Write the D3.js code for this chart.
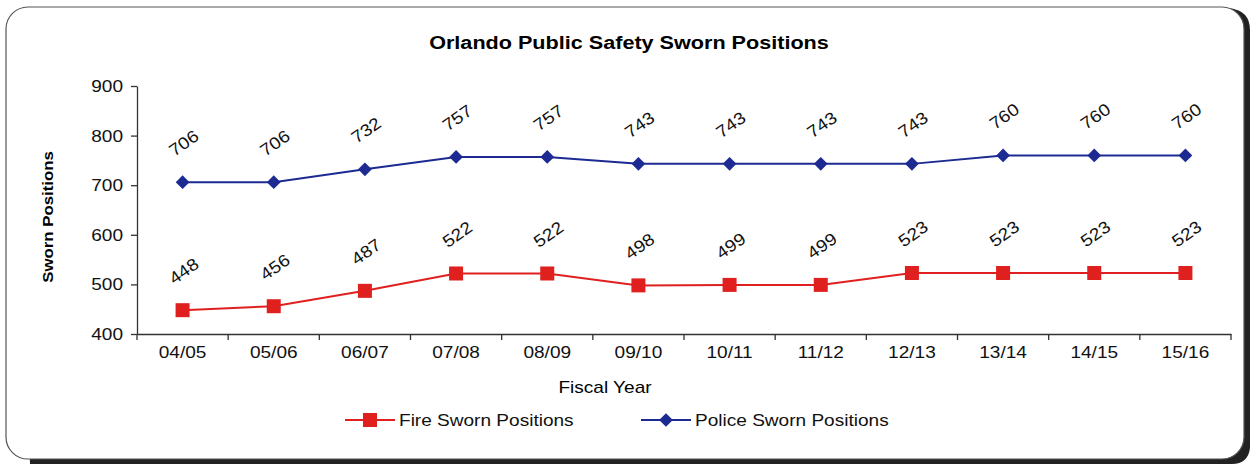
<!DOCTYPE html>
<html><head><meta charset="utf-8">
<script src="https://cdn.jsdelivr.net/npm/d3@7"></script>
<style>body{margin:0;background:#fff;}svg{display:block;font-family:"Liberation Sans",Arial,sans-serif;}</style>
</head><body>
<svg id="c" width="1252" height="465"></svg>
<script>
const categories = ["04/05","05/06","06/07","07/08","08/09","09/10","10/11","11/12","12/13","13/14","14/15","15/16"];
const fireValues = [448,456,487,522,522,498,499,499,523,523,523,523];
const policeValues = [706,706,732,757,757,743,743,743,743,760,760,760];
const yTicks = [400,500,600,700,800,900];
const title = "Orlando Public Safety Sworn Positions";
const xTitle = "Fiscal Year";
const yTitle = "Sworn Positions";
const seriesNames = ["Fire Sworn Positions","Police Sworn Positions"];

const svg = d3.select("#c");
const fireColor = "#e01f1f", policeColor = "#1c2a92";
const FS = 17;

// frame with shadow
svg.append("path").attr("d", "M 14 16 Q 14 10 30 8 L 1228 8 Q 1250 10 1250 30 L 1250 448 Q 1248 464 1232 464 L 30 464 Z").attr("fill","#222");
svg.append("rect").attr("x",6).attr("y",7).attr("width",1238).attr("height",452).attr("rx",22)
  .attr("fill","#fff").attr("stroke","#555").attr("stroke-width",1.2);

const pLeft = 137, pRight = 1231, pTop = 86, pBottom = 334;
const x = d3.scaleBand().domain(categories).range([pLeft,pRight]);
const y = d3.scaleLinear().domain([400,900]).range([pBottom,pTop]);

// title
svg.append("text").attr("class","st").attr("data-k",1.2).attr("x",629).attr("y",49).attr("text-anchor","middle")
  .attr("font-size",18).attr("font-weight","bold").text(title);

// y axis
const ya = svg.append("g").attr("transform",`translate(${pLeft},0)`)
  .call(d3.axisLeft(y).tickValues(yTicks).tickSize(6).tickSizeOuter(0).tickPadding(8));
ya.selectAll("text").attr("class","st").attr("font-size",FS).attr("fill","#111").style("font-family","Liberation Sans, Arial");
ya.selectAll("line,path").attr("stroke","#333").attr("stroke-width",1.3);

// x axis
const xa = svg.append("g").attr("transform",`translate(0,${pBottom})`)
  .call(d3.axisBottom(x).tickSize(0).tickPadding(12));
xa.selectAll("text").attr("class","st").attr("font-size",FS).attr("fill","#111").style("font-family","Liberation Sans, Arial");
xa.select(".domain").attr("stroke","#333").attr("stroke-width",1.3);
const bounds = categories.map(c=>x(c)).concat([x(categories[categories.length-1])+x.bandwidth()]);
svg.append("g").selectAll("line").data(bounds).join("line")
  .attr("x1",d=>d).attr("x2",d=>d).attr("y1",pBottom).attr("y2",pBottom+6)
  .attr("stroke","#333").attr("stroke-width",1.3);

// axis titles
svg.append("text").attr("class","st").attr("x",605).attr("y",393).attr("text-anchor","middle").attr("font-size",FS).text(xTitle);
svg.append("text").attr("class","st").attr("transform","translate(53,217) rotate(-90)").attr("text-anchor","middle")
  .attr("font-size",15).attr("font-weight","bold").text(yTitle);

const cx = c => x(c) + x.bandwidth()/2;
const line = d3.line().x((d,i)=>cx(categories[i])).y(d=>y(d));

function drawSeries(vals, color, shape){
  svg.append("path").datum(vals).attr("d",line).attr("fill","none").attr("stroke",color).attr("stroke-width",2);
  const g = svg.append("g");
  vals.forEach((v,i)=>{
    const px = cx(categories[i]), py = y(v);
    if(shape==="square"){
      g.append("rect").attr("x",px-7).attr("y",py-7).attr("width",14).attr("height",14).attr("fill",color);
    } else {
      g.append("path").attr("d",d3.symbol(d3.symbolDiamond2,120)()).attr("transform",`translate(${px},${py})`).attr("fill",color);
    }
    svg.append("text").attr("class","st").attr("transform",`translate(${px+2},${py-38}) rotate(-35)`)
      .attr("text-anchor","middle").attr("dominant-baseline","middle").attr("font-size",FS).attr("fill","#111").text(v);
  });
}
drawSeries(policeValues, policeColor, "diamond");
drawSeries(fireValues, fireColor, "square");

// legend
function legendItem(x0, color, shape, label){
  svg.append("line").attr("x1",x0).attr("x2",x0+50).attr("y1",420).attr("y2",420).attr("stroke",color).attr("stroke-width",2);
  if(shape==="square") svg.append("rect").attr("x",x0+25-7).attr("y",420-7).attr("width",14).attr("height",14).attr("fill",color);
  else svg.append("path").attr("d",d3.symbol(d3.symbolDiamond2,120)()).attr("transform",`translate(${x0+25},420)`).attr("fill",color);
  svg.append("text").attr("class","st").attr("x",x0+54).attr("y",426).attr("font-size",FS).attr("fill","#111").text(label);
}
legendItem(345, fireColor, "square", seriesNames[0]);
legendItem(641, policeColor, "diamond", seriesNames[1]);

// horizontal stretch of text to mimic the wide reference typeface
svg.selectAll("text.st").each(function(){
  const k = +(this.getAttribute("data-k") || 1.12);
  const w = this.getComputedTextLength();
  this.setAttribute("textLength", w*k);
  this.setAttribute("lengthAdjust","spacingAndGlyphs");
});
</script>
</body></html>
